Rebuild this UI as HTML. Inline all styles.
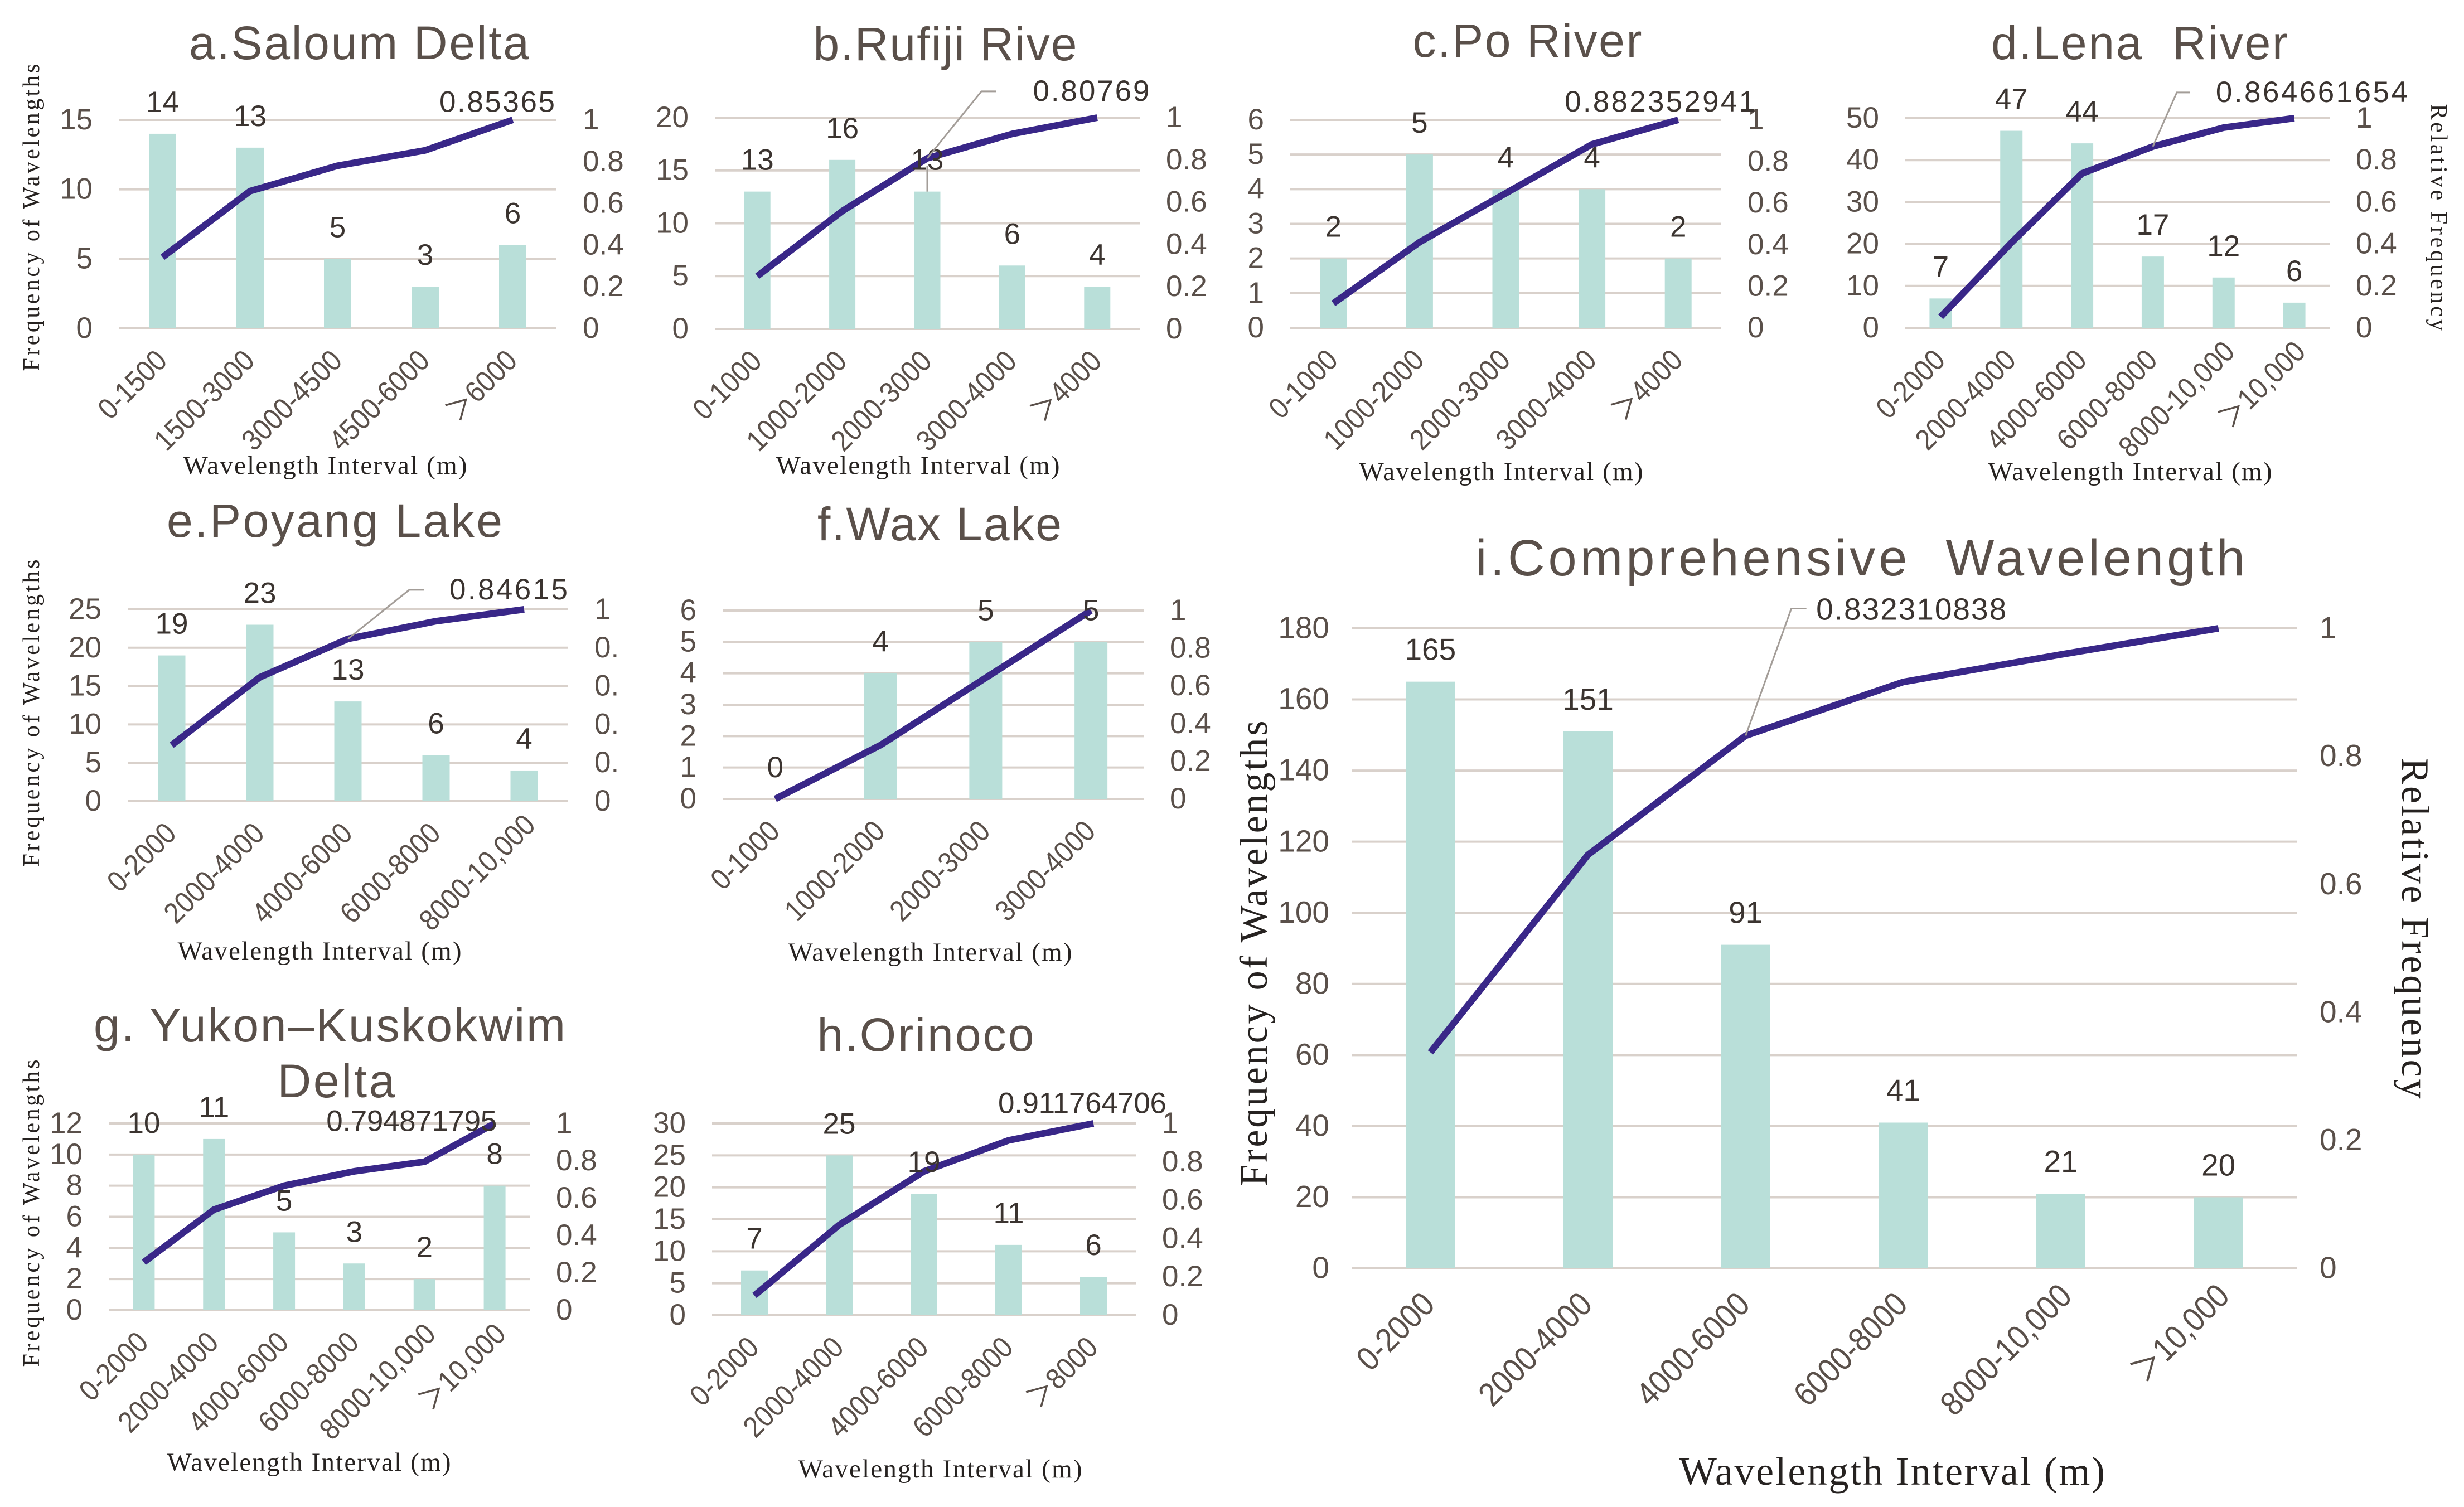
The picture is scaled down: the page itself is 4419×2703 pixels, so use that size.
<!DOCTYPE html>
<html lang="en">
<head>
<meta charset="utf-8">
<title>Frequency of wavelengths by wavelength interval</title>
<style>
html,body{margin:0;padding:0;background:#fff;}
svg{display:block;}
.ttl{font-family:"Liberation Sans",sans-serif;fill:#5a504a;text-anchor:middle;}
.ax{font-family:"Liberation Serif",serif;fill:#262220;text-anchor:middle;}
</style>
</head>
<body>
<svg id="figure" xmlns="http://www.w3.org/2000/svg" width="4419" height="2703" viewBox="0 0 4419 2703">
<rect x="0" y="0" width="4419" height="2703" fill="#ffffff"/>

<text class="ttl" x="644" y="106" font-size="84" textLength="610">a.Saloum Delta</text>
<text class="ttl" x="1695" y="108" font-size="84" textLength="473">b.Rufiji Rive</text>
<text class="ttl" x="2739" y="102" font-size="84" textLength="411">c.Po River</text>
<text class="ttl" x="3837" y="106" font-size="84" textLength="532" xml:space="preserve">d.Lena  River</text>
<text class="ttl" x="600" y="963" font-size="84" textLength="602">e.Poyang Lake</text>
<text class="ttl" x="1685" y="969" font-size="84" textLength="438">f.Wax Lake</text>
<text class="ttl" x="591" y="1868" font-size="84" textLength="846">g. Yukon–Kuskokwim</text>
<text class="ttl" x="603" y="1968" font-size="84" textLength="211">Delta</text>
<text class="ttl" x="1660" y="1885" font-size="84" textLength="389">h.Orinoco</text>
<text class="ttl" x="3336" y="1032" font-size="92" textLength="1380" xml:space="preserve">i.Comprehensive  Wavelength</text>

<text class="ax" x="583" y="850" font-size="47" textLength="509">Wavelength Interval (m)</text>
<text class="ax" x="1646" y="850" font-size="47" textLength="509">Wavelength Interval (m)</text>
<text class="ax" x="2692" y="861" font-size="47" textLength="509">Wavelength Interval (m)</text>
<text class="ax" x="3820" y="861" font-size="47" textLength="509">Wavelength Interval (m)</text>
<text class="ax" x="573" y="1721" font-size="47" textLength="509">Wavelength Interval (m)</text>
<text class="ax" x="1668" y="1723" font-size="47" textLength="509">Wavelength Interval (m)</text>
<text class="ax" x="554" y="2638" font-size="47" textLength="509">Wavelength Interval (m)</text>
<text class="ax" x="1686" y="2650" font-size="47" textLength="509">Wavelength Interval (m)</text>
<text class="ax" x="3393" y="2663" font-size="72" textLength="764">Wavelength Interval (m)</text>

<text class="ax" transform="translate(70,390) rotate(-90)" font-size="42" textLength="551">Frequency of Wavelengths</text>
<text class="ax" transform="translate(70,1279) rotate(-90)" font-size="42" textLength="551">Frequency of Wavelengths</text>
<text class="ax" transform="translate(70,2176) rotate(-90)" font-size="42" textLength="551">Frequency of Wavelengths</text>
<text class="ax" transform="translate(2272,1710) rotate(-90)" font-size="70" textLength="835">Frequency of Wavelengths</text>
<text class="ax" transform="translate(4360,390) rotate(90)" font-size="42" textLength="407">Relative Frequency</text>
<text class="ax" transform="translate(4308,1665) rotate(90)" font-size="70" textLength="611">Relative Frequency</text>

<g id="charts"></g>
</svg>

<script>
// ---- chart data ----
const rightTickValues = [1, 0.8, 0.6, 0.4, 0.2, 0];
const rightTickLabels = ['1', '0.8', '0.6', '0.4', '0.2', '0'];
const rightTickLabelsE = ['1', '0.', '0.', '0.', '0.', '0'];

const aCategories = ['0-1500', '1500-3000', '3000-4500', '4500-6000', '＞6000'];
const aCounts = [14, 13, 5, 3, 6];
const aCumulative = [0.3415, 0.6585, 0.78, 0.8537, 1];
const aLeftTicks = [15, 10, 5, 0];
const aCumLabel = '0.85365';

const bCategories = ['0-1000', '1000-2000', '2000-3000', '3000-4000', '＞4000'];
const bCounts = [13, 16, 13, 6, 4];
const bCumulative = [0.25, 0.5577, 0.8077, 0.9231, 1];
const bLeftTicks = [20, 15, 10, 5, 0];
const bCumLabel = '0.80769';

const cCategories = ['0-1000', '1000-2000', '2000-3000', '3000-4000', '＞4000'];
const cCounts = [2, 5, 4, 4, 2];
const cCumulative = [0.1176, 0.4118, 0.6471, 0.8824, 1];
const cLeftTicks = [6, 5, 4, 3, 2, 1, 0];
const cCumLabel = '0.882352941';

const dCategories = ['0-2000', '2000-4000', '4000-6000', '6000-8000', '8000-10,000', '＞10,000'];
const dCounts = [7, 47, 44, 17, 12, 6];
const dCumulative = [0.0526, 0.406, 0.7368, 0.8647, 0.9549, 1];
const dLeftTicks = [50, 40, 30, 20, 10, 0];
const dCumLabel = '0.864661654';

const eCategories = ['0-2000', '2000-4000', '4000-6000', '6000-8000', '8000-10,000'];
const eCounts = [19, 23, 13, 6, 4];
const eCumulative = [0.2923, 0.6462, 0.8462, 0.9385, 1];
const eLeftTicks = [25, 20, 15, 10, 5, 0];
const eCumLabel = '0.84615';

const fCategories = ['0-1000', '1000-2000', '2000-3000', '3000-4000'];
const fCounts = [0, 4, 5, 5];
const fCumulative = [0, 0.2857, 0.6429, 1];
const fLeftTicks = [6, 5, 4, 3, 2, 1, 0];

const gCategories = ['0-2000', '2000-4000', '4000-6000', '6000-8000', '8000-10,000', '＞10,000'];
const gCounts = [10, 11, 5, 3, 2, 8];
const gCumulative = [0.2564, 0.5385, 0.6667, 0.7436, 0.7949, 1];
const gLeftTicks = [12, 10, 8, 6, 4, 2, 0];
const gCumLabel = '0.794871795';

const hCategories = ['0-2000', '2000-4000', '4000-6000', '6000-8000', '＞8000'];
const hCounts = [7, 25, 19, 11, 6];
const hCumulative = [0.1029, 0.4706, 0.75, 0.9118, 1];
const hLeftTicks = [30, 25, 20, 15, 10, 5, 0];
const hCumLabel = '0.911764706';

const iCategories = ['0-2000', '2000-4000', '4000-6000', '6000-8000', '8000-10,000', '＞10,000'];
const iCounts = [165, 151, 91, 41, 21, 20];
const iCumulative = [0.3374, 0.6462, 0.8323, 0.9162, 0.9591, 1];
const iLeftTicks = [180, 160, 140, 120, 100, 80, 60, 40, 20, 0];
const iCumLabel = '0.832310838';

// ---- panel wiring and placement (layout only) ----
const panels = [
  {id:'a', cats:aCategories, counts:aCounts, cum:aCumulative, left:aLeftTicks, rightLabels:rightTickLabels, label:aCumLabel,
   box:{l:213,r:998,t:215,b:589,barW:49}, note:{idx:3,dx:129,dy:-69,w:207}},
  {id:'b', cats:bCategories, counts:bCounts, cum:bCumulative, left:bLeftTicks, rightLabels:rightTickLabels, label:bCumLabel,
   box:{l:1282,r:2044,t:211,b:590,barW:47}, note:{idx:2,dx:294,dy:-103,w:209,leader:[[0,0],[97,-120],[123,-120]],drop:true}},
  {id:'c', cats:cCategories, counts:cCounts, cum:cCumulative, left:cLeftTicks, rightLabels:rightTickLabels, label:cCumLabel,
   box:{l:2314,r:3087,t:215,b:588,barW:48}, note:{idx:3,dx:122,dy:-59,w:342}},
  {id:'d', cats:dCategories, counts:dCounts, cum:dCumulative, left:dLeftTicks, rightLabels:rightTickLabels, label:dCumLabel,
   box:{l:3417,r:4178,t:212,b:588,barW:40}, note:{idx:3,dx:285,dy:-80,w:344,leader:[[0,0],[43,-97],[67,-97]]}},
  {id:'e', cats:eCategories, counts:eCounts, cum:eCumulative, left:eLeftTicks, rightLabels:rightTickLabelsE, label:eCumLabel,
   box:{l:229,r:1019,t:1093,b:1437,barW:49}, note:{idx:2,dx:288,dy:-71,w:212,leader:[[0,0],[110,-88],[136,-88]]}},
  {id:'f', cats:fCategories, counts:fCounts, cum:fCumulative, left:fLeftTicks, rightLabels:rightTickLabels, label:null,
   box:{l:1296,r:2051,t:1095,b:1433,barW:59}, note:null},
  {id:'g', cats:gCategories, counts:gCounts, cum:gCumulative, left:gLeftTicks, rightLabels:rightTickLabels, label:gCumLabel,
   box:{l:195,r:950,t:2015,b:2350,barW:39}, note:{idx:4,dx:-23,dy:-55,w:306}},
  {id:'h', cats:hCategories, counts:hCounts, cum:hCumulative, left:hLeftTicks, rightLabels:rightTickLabels, label:hCumLabel,
   box:{l:1277,r:2037,t:2015,b:2359,barW:48}, note:{idx:3,dx:132,dy:-49,w:302}},
  {id:'i', cats:iCategories, counts:iCounts, cum:iCumulative, left:iLeftTicks, rightLabels:rightTickLabels, label:iCumLabel,
   box:{l:2424,r:4120,t:1127,b:2275,barW:88,tickFont:55,catFont:60,gap:40,rotX:11,rotY:68}, note:{idx:2,dx:297,dy:-208,w:341,leader:[[0,0],[82,-228],[109,-228]]}}
];

const NS = 'http://www.w3.org/2000/svg';
const SANS = '"Liberation Sans","Noto Sans CJK SC",sans-serif';
const root = document.getElementById('charts');

function svgEl(tag, attrs, parent) {
  const el = document.createElementNS(NS, tag);
  for (const k in attrs) el.setAttribute(k, attrs[k]);
  parent.appendChild(el);
  return el;
}

function drawPanel(p) {
  const b = p.box;
  const tickFont = b.tickFont || 53;
  const catFont = b.catFont || 53;
  const gap = b.gap || 47;
  const rotX = b.rotX || 11;
  const rotY = b.rotY || 61;
  const leftMax = p.left[0];
  const xAt = function (i) { return b.l + (i + 0.5) * (b.r - b.l) / p.cats.length; };
  const yCount = function (v) { return b.b - (v / leftMax) * (b.b - b.t); };
  const yRel = function (v) { return b.b - v * (b.b - b.t); };
  const mid = tickFont * 0.32;

  const g = svgEl('g', {}, root);
  
  

  p.left.forEach(function (v) {
    const line = svgEl('line', {x1:b.l, x2:b.r, y1:yCount(v), y2:yCount(v), stroke:'#d9d1cb', 'stroke-width':4}, g);
    
    
    const t = svgEl('text', {x:b.l - gap, y:yCount(v) + mid, 'text-anchor':'end', 'font-family':SANS, 'font-size':tickFont, fill:'#5a504a'}, g);
    t.textContent = String(v);
    
    
  });

  rightTickValues.forEach(function (v, i) {
    const t = svgEl('text', {x:b.r + gap, y:yRel(v) + mid, 'text-anchor':'start', 'font-family':SANS, 'font-size':tickFont, fill:'#5a504a'}, g);
    t.textContent = p.rightLabels[i];
    
    
  });

  p.counts.forEach(function (v, i) {
    const r = svgEl('rect', {x:xAt(i) - b.barW / 2, y:yCount(v), width:b.barW, height:b.b - yCount(v), fill:'#b9dfd9'}, g);
    
    
  });

  p.cats.forEach(function (c, i) {
    const long = c.indexOf(',') >= 0;
    const tx = xAt(i) + rotX + (long ? 12 : 0);
    const ty = b.b + rotY - (long ? 15 : 0);
    const t = svgEl('text', {transform:'translate(' + tx + ',' + ty + ') rotate(-45) scale(0.9,1)', 'text-anchor':'end', 'font-family':SANS, 'font-size':catFont, fill:'#5a504a'}, g);
    t.textContent = c;
    
    
  });

  const pts = p.cum.map(function (v, i) { return xAt(i) + ',' + yRel(v); }).join(' ');
  const path = svgEl('polyline', {points:pts, fill:'none', stroke:'#392788', 'stroke-width':12, 'stroke-linejoin':'round'}, g);
  
  

  p.counts.forEach(function (v, i) {
    const t = svgEl('text', {x:xAt(i), y:yCount(v) - 39, 'text-anchor':'middle', 'font-family':SANS, 'font-size':tickFont, fill:'#3b3430'}, g);
    t.textContent = String(v);
    
    
  });

  if (p.note) {
    const n = p.note;
    const px = xAt(n.idx);
    const py = yRel(p.cum[n.idx]);
    if (n.leader) {
      const lp = n.leader.map(function (o) { return (px + o[0]) + ',' + (py + o[1]); }).join(' ');
      const l = svgEl('polyline', {points:lp, fill:'none', stroke:'#a39d98', 'stroke-width':3}, g);
      
      
    }
    if (n.drop) {
      const d = svgEl('line', {x1:px, x2:px, y1:py + 14, y2:yCount(p.counts[n.idx]), stroke:'#a39d98', 'stroke-width':3}, g);
      
      
    }
    const t = svgEl('text', {x:px + n.dx, y:py + n.dy, 'text-anchor':'middle', 'font-family':SANS, 'font-size':tickFont, fill:'#3b3430', textLength:n.w}, g);
    t.textContent = p.label;
    
    
  }
}

panels.forEach(drawPanel);
</script>
</body>
</html>
